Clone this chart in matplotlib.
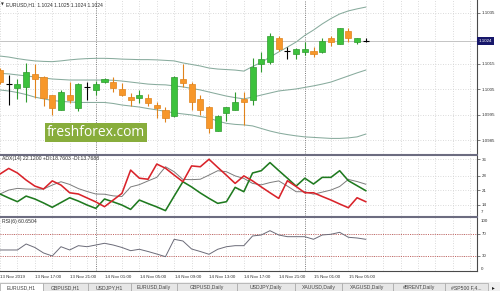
import matplotlib.pyplot as plt
import matplotlib.transforms as mtransforms
from matplotlib.patches import Rectangle
from matplotlib.lines import Line2D

plt.rcParams['font.family'] = ['Liberation Sans', 'DejaVu Sans']

# bar index = hours from 14 Nov 00:00 (EURUSD, H1)
bars = list(range(-11, 32))
opens = [1.10126, 1.10071, 1.10056, 1.10060, 1.10111, 1.10099, 1.10028, 1.09970, 1.10028, 1.09977, 1.10060,
         1.10048, 1.10079, 1.10079, 1.10052, 1.10020, 1.10017, 1.10017, 1.09989, 1.09970, 1.09946,
         1.10091, 1.10071, 1.10013, 1.09981, 1.09887, 1.09958, 1.09970, 1.10013, 1.10009, 1.10150,
         1.10158, 1.10252, 1.10201, 1.10189, 1.10197, 1.10201, 1.10197, 1.10252, 1.10228, 1.10279, 1.10236, 1.10240]
highs = [1.10134, 1.10107, 1.10091, 1.10154, 1.10150, 1.10103, 1.10028, 1.10048, 1.10079, 1.10075, 1.10079,
         1.10083, 1.10095, 1.10099, 1.10075, 1.10036, 1.10048, 1.10032, 1.10001, 1.09981, 1.10103,
         1.10150, 1.10079, 1.10028, 1.09985, 1.09950, 1.09981, 1.10040, 1.10040, 1.10173, 1.10197,
         1.10271, 1.10260, 1.10216, 1.10213, 1.10236, 1.10216, 1.10252, 1.10260, 1.10291, 1.10291, 1.10252, 1.10252]
lows = [1.10071, 1.09989, 1.10013, 1.10001, 1.10017, 1.09985, 1.09950, 1.09970, 1.09997, 1.09966, 1.10009,
        1.10028, 1.10075, 1.10040, 1.10024, 1.09985, 1.09997, 1.09985, 1.09938, 1.09922, 1.09942,
        1.10060, 1.09970, 1.09950, 1.09879, 1.09887, 1.09926, 1.09970, 1.09911, 1.09989, 1.10118,
        1.10150, 1.10201, 1.10169, 1.10169, 1.10185, 1.10177, 1.10193, 1.10220, 1.10228, 1.10236, 1.10228, 1.10236]
closes = [1.10079, 1.10071, 1.10071, 1.10118, 1.10091, 1.10017, 1.09977, 1.10040, 1.10009, 1.10071, 1.10060,
          1.10071, 1.10091, 1.10056, 1.10028, 1.10009, 1.10028, 1.09997, 1.09977, 1.09938, 1.10099,
          1.10075, 1.10001, 1.09970, 1.09899, 1.09946, 1.09981, 1.10001, 1.10001, 1.10138, 1.10169,
          1.10260, 1.10209, 1.10201, 1.10209, 1.10209, 1.10189, 1.10240, 1.10236, 1.10291, 1.10252, 1.10252, 1.10240]

bb_upper = [1.10181, 1.10177, 1.10171, 1.10166, 1.10162, 1.10160, 1.10159, 1.10162, 1.10166, 1.10169, 1.10171,
            1.10172, 1.10172, 1.10171, 1.10169, 1.10168, 1.10167, 1.10167, 1.10166, 1.10164, 1.10162,
            1.10154, 1.10148, 1.10142, 1.10134, 1.10130, 1.10128, 1.10126, 1.10122, 1.10140, 1.10156,
            1.10177, 1.10197, 1.10216, 1.10236, 1.10262, 1.10283, 1.10307, 1.10328, 1.10346, 1.10358, 1.10366, 1.10373]
bb_middle = [1.10113, 1.10111, 1.10107, 1.10103, 1.10099, 1.10095, 1.10091, 1.10089, 1.10087, 1.10087, 1.10087,
             1.10087, 1.10087, 1.10086, 1.10083, 1.10079, 1.10075, 1.10071, 1.10069, 1.10068, 1.10064,
             1.10060, 1.10054, 1.10048, 1.10040, 1.10032, 1.10024, 1.10018, 1.10013, 1.10020, 1.10028,
             1.10036, 1.10044, 1.10048, 1.10052, 1.10058, 1.10064, 1.10071, 1.10079, 1.10091, 1.10103, 1.10115, 1.10126]
bb_lower = [1.10048, 1.10044, 1.10038, 1.10030, 1.10020, 1.10013, 1.10007, 1.10003, 1.10001, 1.09999, 1.09999,
            1.09999, 1.09999, 1.09995, 1.09989, 1.09985, 1.09981, 1.09975, 1.09970, 1.09964, 1.09958,
            1.09954, 1.09950, 1.09944, 1.09938, 1.09926, 1.09917, 1.09913, 1.09911, 1.09907, 1.09897,
            1.09887, 1.09879, 1.09873, 1.09868, 1.09864, 1.09862, 1.09860, 1.09858, 1.09858, 1.09860, 1.09864, 1.09875]

adx_main = [19.2, 21.1, 21.9, 21.6, 21.5, 21.6, 23.5, 25.1, 23.8, 21.8, 20.4,
            19.2, 19.1, 18.3, 18.0, 22.6, 23.7, 25.5, 27.2, 32.3, 29.9,
            26.2, 26.1, 26.3, 28.3, 30.4, 29.9, 27.9, 26.7, 24.3, 23.6,
            24.7, 25.5, 23.0, 20.3, 20.3, 19.1, 20.1, 21.1, 22.8, 26.2, 25.2, 23.9]
plus_di = [19.2, 17.3, 15.5, 18.2, 16.8, 14.9, 12.8, 15.1, 17.4, 15.8, 13.9,
           12.3, 16.8, 15.4, 13.9, 11.8, 16.3, 14.6, 13.0, 11.2, 18.2,
           25.1, 22.6, 19.7, 17.1, 14.7, 15.5, 22.4, 20.3, 29.3, 30.4,
           34.3, 30.5, 26.8, 23.0, 26.8, 24.0, 27.2, 27.2, 30.4, 25.6, 23.2, 20.8]
minus_di = [28.8, 31.5, 29.3, 25.9, 23.0, 21.6, 25.5, 23.5, 19.8, 19.2, 17.3,
            15.4, 13.1, 16.3, 19.5, 30.7, 26.8, 26.3, 33.6, 31.6, 28.3,
            25.1, 32.7, 32.3, 35.9, 32.0, 28.2, 24.3, 27.9, 25.5, 22.6,
            19.8, 17.1, 25.6, 22.8, 19.8, 19.8, 18.0, 16.3, 14.4, 12.6, 17.4, 15.5]
rsi = [40.4, 40.4, 40.4, 51.4, 45.0, 34.9, 29.4, 46.4, 40.4, 48.3, 46.4,
       49.5, 52.7, 49.5, 45.0, 39.1, 41.7, 37.6, 33.0, 28.1, 60.0,
       56.9, 42.2, 37.6, 32.5, 41.7, 46.4, 48.3, 48.3, 66.1, 67.9,
       75.8, 67.9, 64.8, 64.8, 64.8, 60.0, 67.9, 69.2, 72.8, 63.7, 62.4, 60.0]

time_ticks = [-11, -7, -3, 1, 5, 9, 13, 17, 21, 25, 29]
time_labels = ['13 Nov 2019', '13 Nov 17:00', '13 Nov 21:00', '14 Nov 01:00', '14 Nov 05:00',
               '14 Nov 09:00', '14 Nov 13:00', '14 Nov 17:00', '14 Nov 21:00', '15 Nov 01:00', '15 Nov 05:00']
day_starts = [0, 24]
price_ticks = [1.0985, 1.0995, 1.1005, 1.1015, 1.1035]
last_price = 1.1024
adx_ticks = [14, 21, 28, 36]
rsi_levels = [30, 70]
tabs = ['EURUSD,H1', 'GBPUSD,H1', 'USDJPY,H1', 'EURUSD,Daily', 'GBPUSD,Daily', 'USDJPY,Daily',
        'XAUUSD,Daily', 'XAGUSD,Daily', '#BRENT,Daily', '#SP500 F,4...']
tab_edges = [0, 43, 88, 131, 177, 237, 295, 342, 393, 445, 488]

W, H = 500, 291
def fx(x): return x / W
def fy(y): return 1 - y / H

fig = plt.figure(figsize=(5, 2.91), dpi=100)
fig.patch.set_facecolor('white')

ax_main = fig.add_axes([0, fy(153.5), fx(477), 153.5 / H])
ax_adx = fig.add_axes([0, fy(216), fx(477), (216 - 155.5) / H])
ax_rsi = fig.add_axes([0, fy(271), fx(477), (271 - 217.5) / H])

axis_col = '#4a4a4a'
grid_kw = dict(color='#cfcfcf', linestyle=(0, (1, 2)), linewidth=0.6)
for ax in (ax_main, ax_adx, ax_rsi):
    ax.set_xlim(-10.743, 43.771)
    ax.set_facecolor('white')
    for s in ('top', 'left', 'bottom'):
        ax.spines[s].set_visible(False)
    ax.spines['right'].set_color(axis_col)
    ax.spines['right'].set_linewidth(0.8)
    ax.yaxis.tick_right()
    ax.set_xticks(list(range(-11, 45, 2)))
    ax.tick_params(axis='x', length=0, labelbottom=False)
    ax.tick_params(axis='y', length=1.8, width=0.5, color=axis_col, pad=1.5,
                   labelsize=3.2, labelcolor='#303030')
    ax.grid(True, **grid_kw)
    ax.set_axisbelow(True)
    for d in day_starts:
        ax.axvline(d, color='#7a7a7a', linestyle=(0, (1, 1.3)), linewidth=0.7, zorder=1)

# main chart: candles + bollinger bands
ax_main.set_ylim(1.1024 - 112.5 / 25500, 1.1024 + 41 / 25500)
ax_main.set_yticks(price_ticks)
ax_main.set_yticklabels([f'{p:.4f}' for p in price_ticks])
ax_main.axhline(last_price, color='#c4c4c4', linewidth=0.7, zorder=1)

band_col = '#88ab9d'
for band in (bb_upper, bb_middle, bb_lower):
    ax_main.plot(bars, band, color=band_col, linewidth=0.75, zorder=2)

for k, o, h, l, c in zip(bars, opens, highs, lows, closes):
    if c > o:
        fill, edge = '#3cc23c', '#2f9a2f'
    elif c < o:
        fill, edge = '#f7972a', '#e0831c'
    else:
        fill, edge = 'black', 'black'
    ax_main.vlines(k, l, h, color=edge, linewidth=0.8, zorder=3)
    if c == o:
        ax_main.hlines(o, k - 0.34, k + 0.34, color='black', linewidth=0.8, zorder=4)
    else:
        ax_main.bar(k, abs(c - o), bottom=min(o, c), width=0.7, color=fill,
                    edgecolor=edge, linewidth=0.5, zorder=4)

# current price tag
ax_main.text(1.004, last_price, '1.1024', transform=mtransforms.blended_transform_factory(ax_main.transAxes, ax_main.transData),
             fontsize=3.2, color='white', va='center', ha='left', clip_on=False, zorder=6,
             bbox=dict(boxstyle='square,pad=0.35', facecolor='#17176a', edgecolor='none'))

# ADX panel
ax_adx.set_ylim(8.625, 37.71)
ax_adx.set_yticks(adx_ticks)
ax_adx.set_yticklabels([str(t) for t in adx_ticks])
ax_adx.plot(bars, adx_main, color='#7c7c7c', linewidth=0.7, zorder=3)
ax_adx.plot(bars, plus_di, color='#1f7a1f', linewidth=1.15, zorder=3)
ax_adx.plot(bars, minus_di, color='#d9232a', linewidth=1.15, zorder=3)
fig.text(fx(481), fy(211.7), '7', fontsize=3.2, color='#303030', va='center')
ax_adx.text(0.004, 0.95, 'ADX(14) 22.1200 +DI:18.7603 -DI:13.7688', transform=ax_adx.transAxes,
            fontsize=3.7, color='#303030', va='center', ha='left')

# RSI panel
ax_rsi.set_ylim(1.83, 100)
ax_rsi.set_yticks(rsi_levels)
ax_rsi.set_yticklabels([str(t) for t in rsi_levels])
for lv in rsi_levels:
    ax_rsi.axhline(lv, color='#c0504d', linestyle=(0, (1.2, 1.5)), linewidth=0.6, zorder=2)
ax_rsi.plot(bars, rsi, color='#6b6b78', linewidth=0.7, zorder=3)
ax_rsi.spines['bottom'].set_visible(True)
ax_rsi.spines['bottom'].set_color(axis_col)
ax_rsi.spines['bottom'].set_linewidth(0.8)
fig.text(fx(481), fy(221), '100', fontsize=3.2, color='#303030', va='center')
fig.text(fx(481), fy(269), '0', fontsize=3.2, color='#303030', va='center')
ax_rsi.text(0.004, 0.93, 'RSI(6) 60.6504', transform=ax_rsi.transAxes,
            fontsize=3.7, color='#303030', va='center', ha='left')

# time scale
tt = mtransforms.blended_transform_factory(ax_rsi.transData, fig.transFigure)
for k, lab in zip(time_ticks, time_labels):
    ax_rsi.text(k + 0.05, fy(277.5), lab, transform=tt, fontsize=3.2, color='#303030',
                ha='left', va='center', clip_on=False)

# panel separators
for y in (154.5, 216.7):
    fig.add_artist(Line2D([0, fx(477)], [fy(y), fy(y)], color='#6c6c80', linewidth=1.5))

# header
fig.text(fx(0.5), fy(4.5), '▼', fontsize=2.6, color='#303030', va='center', family='DejaVu Sans')
fig.text(fx(6), fy(4.5), 'EURUSD,H1  1.1024 1.1025 1.1024 1.1024', fontsize=3.6, color='#303030', va='center')

# watermark
fig.add_artist(Rectangle((fx(45), fy(142)), 102 / W, 19 / H, transform=fig.transFigure,
                         facecolor='#88ad3c', edgecolor='none', zorder=5))
fig.text(fx(96), fy(132.5), 'freshforex.com', fontsize=10, color='white', ha='center', va='center',
         family=['Open Sans', 'DejaVu Sans'], zorder=6)

# tabs
fig.add_artist(Rectangle((0, 0), 1, fy(282), transform=fig.transFigure, facecolor='#f0f0f0', edgecolor='none'))
for i, name in enumerate(tabs):
    x0, x1 = tab_edges[i], tab_edges[i + 1]
    fc = 'white' if i == 0 else '#e6e6e6'
    fig.add_artist(Rectangle((fx(x0), 0), (x1 - x0) / W, fy(283), transform=fig.transFigure,
                             facecolor=fc, edgecolor='#a6a6a6', linewidth=0.5))
    fig.text(fx((x0 + x1) / 2), fy(287.5), name, fontsize=3.7, color='#444444', ha='center', va='center')
fig.text(fx(493), fy(287.5), '▸', fontsize=4, color='#202020', ha='center', va='center', family='DejaVu Sans')

fig.savefig('out.png', dpi=100, facecolor='white')
